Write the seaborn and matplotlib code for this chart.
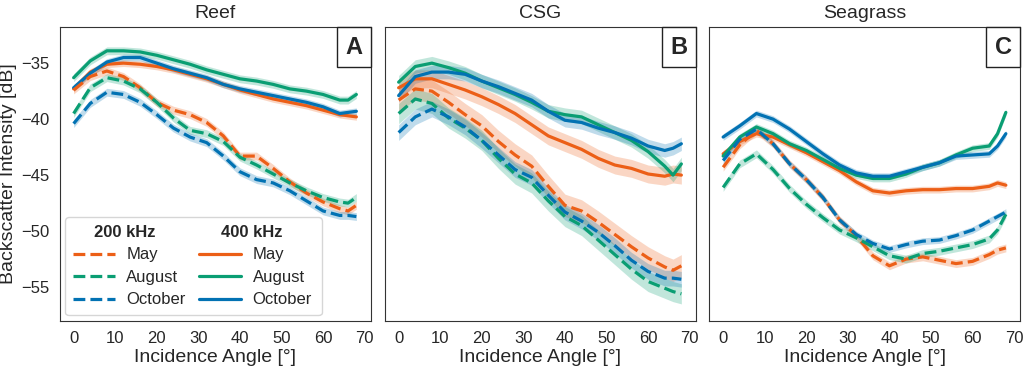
import numpy as np
import matplotlib
matplotlib.use("Agg")
import matplotlib.pyplot as plt
import seaborn as sns
from matplotlib.lines import Line2D
from matplotlib.offsetbox import AnchoredText

# ── data ───────────────────────────────────────────────────
ANGLES = [0, 4, 8, 12, 16, 20, 24, 28, 32, 36, 40, 44, 48, 52, 56, 60, 64, 66, 68]

# Reef
reef_400_may = [-37.3, -35.8, -35.1, -35.0, -35.1, -35.3, -35.6, -36.0, -36.4, -36.9, -37.4, -37.8, -38.2, -38.5, -38.8, -39.2, -39.6, -39.7, -39.8]
reef_400_aug = [-36.3, -34.8, -33.9, -33.9, -34.0, -34.3, -34.7, -35.1, -35.6, -36.0, -36.4, -36.6, -36.9, -37.3, -37.5, -37.8, -38.3, -38.3, -37.8]
reef_400_oct = [-37.2, -35.9, -34.9, -34.5, -34.5, -35.0, -35.5, -35.9, -36.3, -36.9, -37.3, -37.6, -37.9, -38.2, -38.5, -38.9, -39.5, -39.4, -39.3]
reef_200_may = [-37.4, -36.2, -35.7, -36.2, -37.2, -38.5, -39.2, -39.6, -40.3, -41.5, -43.3, -43.3, -44.4, -45.6, -46.6, -47.4, -48.0, -48.2, -47.7]
reef_200_aug = [-39.5, -37.2, -36.3, -36.6, -37.3, -38.5, -39.9, -41.0, -41.3, -42.0, -43.4, -44.1, -44.9, -45.7, -46.4, -47.0, -47.4, -47.5, -47.0]
reef_200_oct = [-40.4, -38.6, -37.6, -37.8, -38.5, -39.6, -40.8, -41.6, -42.1, -43.3, -44.7, -45.4, -45.7, -46.4, -47.3, -48.2, -48.6, -48.6, -48.7]

# CSG
csg_400_may = [-37.2, -36.4, -36.4, -36.9, -37.4, -38.0, -38.7, -39.5, -40.5, -41.5, -42.1, -42.7, -43.5, -44.1, -44.4, -44.9, -45.1, -44.9, -45.0]
csg_400_aug = [-36.7, -35.3, -35.0, -35.4, -35.9, -36.6, -37.2, -37.8, -38.5, -39.3, -39.6, -39.8, -40.5, -41.2, -41.9, -42.9, -44.2, -45.0, -44.0]
csg_400_oct = [-37.9, -36.2, -35.8, -35.8, -36.0, -36.6, -37.1, -37.7, -38.3, -39.3, -40.1, -40.3, -40.8, -41.2, -41.7, -42.4, -42.8, -42.6, -42.2]
csg_200_may = [-38.3, -37.3, -37.5, -38.5, -39.6, -40.6, -42.0, -43.2, -44.2, -46.0, -47.7, -48.2, -49.2, -50.3, -51.4, -52.4, -53.2, -53.5, -53.1]
csg_200_aug = [-39.5, -38.2, -38.6, -39.9, -40.8, -41.9, -43.5, -44.9, -45.7, -47.3, -48.7, -49.5, -50.8, -52.1, -53.4, -54.5, -55.1, -55.4, -55.6]
csg_200_oct = [-41.2, -39.8, -39.1, -39.8, -40.7, -41.9, -43.2, -44.5, -45.2, -46.8, -48.3, -49.1, -50.1, -51.3, -52.6, -53.6, -54.2, -54.2, -54.3]

# Seagrass
sg_400_may = [-43.1, -42.0, -41.3, -41.6, -42.3, -43.0, -43.8, -44.6, -45.6, -46.4, -46.6, -46.4, -46.3, -46.3, -46.2, -46.2, -46.0, -45.7, -45.9]
sg_400_aug = [-43.3, -41.6, -40.7, -41.3, -42.2, -42.8, -43.6, -44.4, -45.0, -45.3, -45.3, -44.9, -44.3, -43.9, -43.2, -42.6, -42.4, -41.3, -39.4]
sg_400_oct = [-41.6, -40.6, -39.5, -40.0, -40.9, -42.0, -43.1, -44.1, -44.8, -45.1, -45.1, -44.7, -44.3, -43.9, -43.3, -43.2, -43.1, -42.4, -41.3]
sg_200_may = [-44.3, -42.3, -41.0, -42.2, -44.0, -45.4, -47.0, -49.0, -50.4, -52.2, -53.1, -52.5, -52.3, -52.6, -52.9, -52.7, -52.1, -51.7, -51.5]
sg_200_aug = [-46.1, -44.0, -43.1, -44.5, -46.2, -47.6, -48.8, -49.9, -50.6, -51.4, -52.2, -52.5, -52.0, -51.8, -51.5, -51.2, -50.7, -49.9, -48.5]
sg_200_oct = [-43.7, -41.8, -40.9, -42.2, -44.0, -45.4, -47.0, -49.0, -50.3, -51.1, -51.6, -51.2, -50.9, -50.8, -50.4, -49.9, -49.1, -48.7, -48.3]

# half-width of the shaded band [dB], order: 200 May/Aug/Oct, 400 May/Aug/Oct
reef_band = [0.35, 0.35, 0.35, 0.3, 0.35, 0.3]
csg_band = [1.0, 0.9, 0.7, 0.8, 0.6, 0.6]
sg_band = [0.35, 0.35, 0.3, 0.3, 0.3, 0.3]

PANELS = ["Reef", "CSG", "Seagrass"]
LETTERS = ["A", "B", "C"]
MONTHS = ["May", "August", "October"]
COLORS = ["#EC5F17", "#0A9E73", "#0272B3"]

SERIES = {
    "Reef": ([reef_200_may, reef_200_aug, reef_200_oct], [reef_400_may, reef_400_aug, reef_400_oct], reef_band),
    "CSG": ([csg_200_may, csg_200_aug, csg_200_oct], [csg_400_may, csg_400_aug, csg_400_oct], csg_band),
    "Seagrass": ([sg_200_may, sg_200_aug, sg_200_oct], [sg_400_may, sg_400_aug, sg_400_oct], sg_band),
}

sns.set_style("white")
plt.rcParams["font.family"] = ["Liberation Sans", "DejaVu Sans"]
plt.rcParams["axes.edgecolor"] = "#333333"

fig = plt.figure(figsize=(10.24, 3.69), dpi=100)
lefts = [59.5 / 1024, 384.5 / 1024, 709.0 / 1024]
width = 311 / 1024
bottom = 1 - 320.7 / 369
height = (320.7 - 27.3) / 369

ang = np.array(ANGLES)
for i, name in enumerate(PANELS):
    ax = fig.add_axes([lefts[i], bottom, width, height])
    low, high, band = SERIES[name]
    for group, ls, offs in [(high, "-", 3), (low, "--", 0)]:
        for j, vals in enumerate(group):
            v = np.array(vals)
            hw = band[offs + j]
            ax.fill_between(ang, v - hw, v + hw, color=COLORS[j], alpha=0.25, lw=0)
            sns.lineplot(x=ang, y=v, ax=ax, color=COLORS[j], linestyle=ls, linewidth=2.3)
    ax.set_xlim(-3.4, 71.4)
    ax.set_ylim(-58, -31.8)
    ax.set_xticks(range(0, 71, 10))
    ax.set_yticks(range(-55, -34, 5))
    ax.tick_params(labelsize=12, pad=4)
    ax.set_title(name, fontsize=14, pad=7)
    ax.set_xlabel("Incidence Angle [°]", fontsize=14, labelpad=2)
    if i == 0:
        ax.set_ylabel("Backscatter Intensity [dB]", fontsize=14, labelpad=3)
    else:
        ax.set_ylabel("")
        ax.set_yticklabels([])
    at = AnchoredText(LETTERS[i], loc="upper right", pad=0.35, borderpad=0,
                      prop=dict(size=17, weight="bold"))
    at.patch.set_edgecolor("#222222")
    at.patch.set_linewidth(1.0)
    ax.add_artist(at)

    if i == 0:
        blank = Line2D([], [], color="none")
        handles = [blank] + [Line2D([], [], color=c, ls="--", lw=2.3) for c in COLORS] \
            + [blank] + [Line2D([], [], color=c, ls="-", lw=2.3) for c in COLORS]
        labels = ["200 kHz"] + MONTHS + ["400 kHz"] + MONTHS
        leg = ax.legend(handles, labels, ncol=2, loc="lower left", fontsize=12,
                        handlelength=2.5, handletextpad=0.7, columnspacing=0.7,
                        labelspacing=0.45, borderaxespad=0.35, borderpad=0.45,
                        frameon=True, fancybox=True)
        leg.get_frame().set_edgecolor("#cccccc")
        for t in leg.get_texts():
            if "kHz" in t.get_text():
                t.set_fontweight("bold")
                t.set_x(-32)

fig.savefig("out.png", dpi=100)
